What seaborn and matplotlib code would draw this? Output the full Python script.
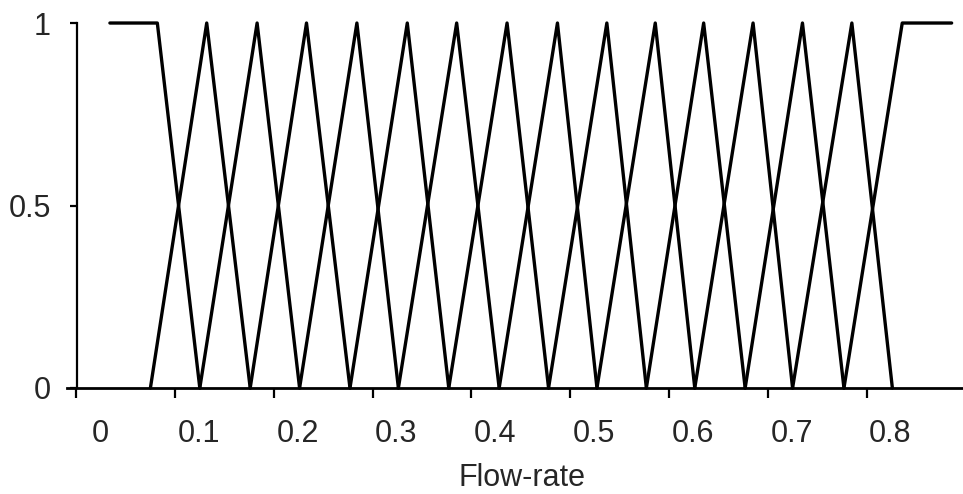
import numpy as np
import pandas as pd
import seaborn as sb
import matplotlib.pyplot as plt
from matplotlib.ticker import FixedLocator

# membership function data
peaks = [0.058, 0.108, 0.159, 0.209, 0.260, 0.311, 0.361, 0.412, 0.463,
         0.513, 0.562, 0.611, 0.661, 0.711, 0.761, 0.812]
feet = [0.051, 0.101, 0.152, 0.202, 0.253, 0.302, 0.353, 0.404, 0.454,
        0.503, 0.553, 0.602, 0.653, 0.701, 0.753, 0.802]
left_start = 0.010
right_end = 0.862

xticks = [0, 0.1, 0.2, 0.3, 0.4, 0.5, 0.6, 0.7, 0.8]
xticklabels = ["0", "0.1", "0.2", "0.3", "0.4", "0.5", "0.6", "0.7", "0.8"]
yticks = [0, 0.5, 1]
yticklabels = ["0", "0.5", "1"]

# build the long table, one unit per membership function
rows = []
n = len(peaks)
for i in range(n):
    if i == 0:
        pts = [(left_start, 1), (peaks[0], 1), (feet[1], 0)]
    elif i == n - 1:
        pts = [(feet[n - 2], 0), (peaks[n - 1], 1), (right_end, 1)]
    else:
        pts = [(feet[i - 1], 0), (peaks[i], 1), (feet[i + 1], 0)]
    for k, (x, y) in enumerate(pts):
        rows.append({"fn": i, "order": k, "x": x, "mu": y})
df = pd.DataFrame(rows)

sb.set_style("white")
plt.rcParams["font.family"] = ["Liberation Sans", "DejaVu Sans"]

fig = plt.figure(figsize=(9.63, 4.94), dpi=100)
ax = fig.add_axes([0.0696, 0.2146, 0.9304, 0.7388])

sb.lineplot(data=df, x="x", y="mu", units="fn", estimator=None, sort=False,
            color="black", linewidth=2.4, ax=ax, clip_on=False)

ax.set_xlim(-0.0334, 0.8735)
ax.set_ylim(0, 1)

for s in ["top", "right"]:
    ax.spines[s].set_visible(False)
ax.spines["left"].set_position(("data", -0.023))
ax.spines["left"].set_linewidth(1.6)
ax.spines["bottom"].set_linewidth(2.0)
ax.spines["left"].set_color("black")
ax.spines["bottom"].set_color("black")

# labels sit to the right of the tick marks in the original
ax.set_xticks(xticks)
ax.set_xticklabels(xticklabels, fontsize=22)
ax.xaxis.set_minor_locator(FixedLocator([t - 0.024 for t in xticks]))
ax.tick_params(axis="x", which="major", length=0, pad=22)
ax.tick_params(axis="x", which="minor", length=7, width=1.6, color="black", direction="out", bottom=True)

ax.set_yticks(yticks)
ax.set_yticklabels(yticklabels, fontsize=22)
ax.tick_params(axis="y", which="major", length=5, width=1.6, color="black", direction="out", left=True, pad=14)

ax.set_xlabel("Flow-rate", fontsize=22)
ax.xaxis.set_label_coords(0.508, -0.205)
ax.set_ylabel("")

fig.savefig("out.png", dpi=100)
